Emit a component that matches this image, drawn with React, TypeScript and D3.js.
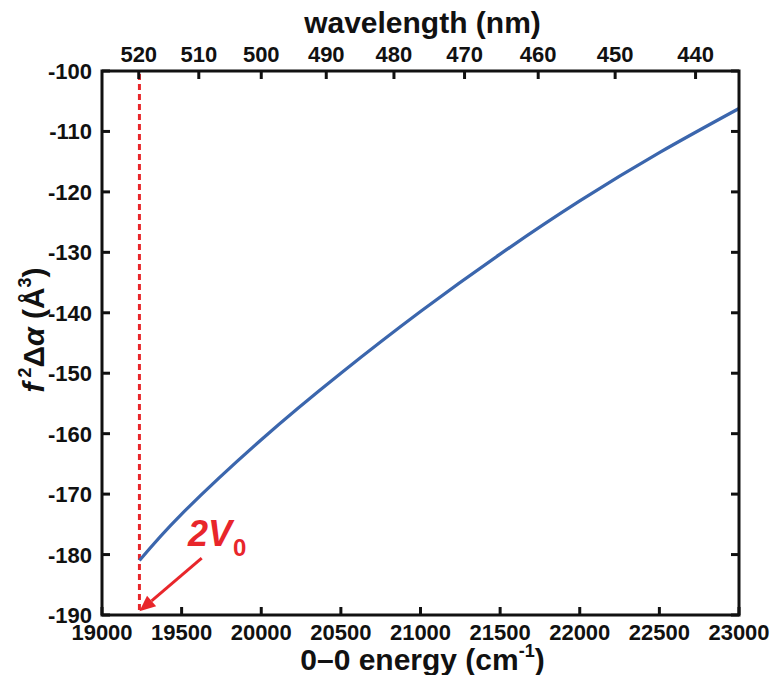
import React from "react";
import * as d3 from "d3";

const energy = [19235, 19500, 20000, 20500, 21000, 21500, 22000, 22500, 23000];
const f2da = [-181, -173.3, -161.0, -150.0, -139.8, -130.3, -121.5, -113.5, -106.2];
const xTicks = [19000, 19500, 20000, 20500, 21000, 21500, 22000, 22500, 23000];
const yTicks = [-190, -180, -170, -160, -150, -140, -130, -120, -110, -100];
const wlTicks = [520, 510, 500, 490, 480, 470, 460, 450, 440];
const v0Energy = 19235;

const W = 774, H = 675;
const L = 102, R = 739, T = 71, B = 615;
const FONT = "'Liberation Sans', Arial, sans-serif";
const RED = "#e8262b";
const BLUE = "#3b66ad";

export default function App() {
  const x = d3.scaleLinear().domain([19000, 23000]).range([L, R]);
  const y = d3.scaleLinear().domain([-190, -100]).range([B, T]);
  const pts = energy.map((e, i) => [e, f2da[i]] as [number, number]);
  const line = d3
    .line<[number, number]>()
    .x((d) => x(d[0]))
    .y((d) => y(d[1]))
    .curve(d3.curveNatural);
  const tk = 8;

  // arrow annotation (data coords)
  const ax0 = x(19626), ay0 = y(-180.6);
  const ax1 = x(v0Energy), ay1 = y(-189.4);
  const ang = Math.atan2(ay1 - ay0, ax1 - ax0);
  const hl = 16, hw = 7;
  const bx = ax1 - hl * Math.cos(ang), by = ay1 - hl * Math.sin(ang);
  const head = [
    [ax1, ay1],
    [bx + hw * Math.sin(ang), by - hw * Math.cos(ang)],
    [bx - hw * Math.sin(ang), by + hw * Math.cos(ang)],
  ];

  const tickText = (props: any, s: string, key: string) => (
    <text key={key} {...props} fontSize={22} fontWeight="bold" fill="#111">
      {s}
    </text>
  );

  return (
    <svg
      width={W}
      height={H}
      style={{ position: "absolute", left: 0, top: 0, background: "#fff" }}
      fontFamily={FONT}
    >
      <rect x={0} y={0} width={W} height={H} fill="#fff" />
      {/* red dashed line */}
      <line
        x1={x(v0Energy)}
        x2={x(v0Energy)}
        y1={T + 3}
        y2={B}
        stroke={RED}
        strokeWidth={3}
        strokeDasharray="6,4"
      />
      {/* curve */}
      <path d={line(pts) || ""} fill="none" stroke={BLUE} strokeWidth={3.2} />
      {/* arrow */}
      <line x1={ax0} y1={ay0} x2={bx} y2={by} stroke={RED} strokeWidth={3} />
      <polygon points={head.map((p) => p.join(",")).join(" ")} fill={RED} />
      <text
        x={x(19540)}
        y={y(-178.6)}
        fill={RED}
        fontSize={36}
        fontWeight="bold"
        fontStyle="italic"
      >
        2V
        <tspan fontSize={24} fontStyle="normal" dx={1} dy={10}>
          0
        </tspan>
      </text>
      {/* frame */}
      <rect x={L} y={T} width={R - L} height={B - T} fill="none" stroke="#111" strokeWidth={3} />
      {/* bottom ticks */}
      {xTicks.map((t) => (
        <g key={"bx" + t}>
          <line x1={x(t)} x2={x(t)} y1={B} y2={B - tk} stroke="#111" strokeWidth={3} />
          {tickText({ x: x(t), y: B + 25, textAnchor: "middle" }, String(t), "bt" + t)}
        </g>
      ))}
      {/* left & right ticks */}
      {yTicks.map((t) => (
        <g key={"ly" + t}>
          <line x1={L} x2={L + tk} y1={y(t)} y2={y(t)} stroke="#111" strokeWidth={3} />
          <line x1={R} x2={R - tk} y1={y(t)} y2={y(t)} stroke="#111" strokeWidth={3} />
          {tickText({ x: L - 10, y: y(t) + 8, textAnchor: "end" }, String(t), "lt" + t)}
        </g>
      ))}
      {/* top wavelength ticks */}
      {wlTicks.map((w) => {
        const px = x(1e7 / w);
        return (
          <g key={"wl" + w}>
            <line x1={px} x2={px} y1={T} y2={T + tk} stroke="#111" strokeWidth={3} />
            {tickText({ x: px, y: T - 9, textAnchor: "middle" }, String(w), "tt" + w)}
          </g>
        );
      })}
      {/* axis titles */}
      <text x={(L + R) / 2 + 2} y={33} textAnchor="middle" fontSize={30} fontWeight="bold" fill="#111">
        wavelength (nm)
      </text>
      <text x={(L + R) / 2 + 2} y={670} textAnchor="middle" fontSize={30} fontWeight="bold" fill="#111">
        0–0 energy (cm
        <tspan fontSize={18} dy={-13}>
          -1
        </tspan>
        <tspan dy={13}>)</tspan>
      </text>
      <text
        transform={`translate(44,${330}) rotate(-90)`}
        textAnchor="middle"
        fontSize={30}
        fontWeight="bold"
        fill="#111"
      >
        <tspan fontStyle="italic">f</tspan>
        <tspan fontSize={18} dy={-13} dx={5}>2</tspan>
        <tspan dy={13}>Δ</tspan>
        <tspan fontStyle="italic">α</tspan>
        <tspan> (Å</tspan>
        <tspan fontSize={18} dy={-13}>3</tspan>
        <tspan dy={13}>)</tspan>
      </text>
    </svg>
  );
}
